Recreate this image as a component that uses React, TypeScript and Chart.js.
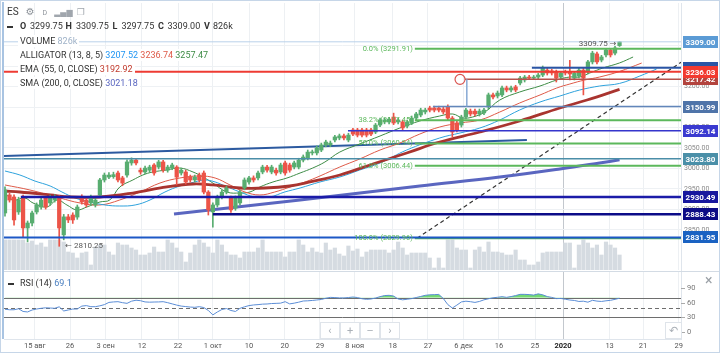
import React, { useEffect, useRef } from 'react';
import { Chart, registerables } from 'chart.js';

Chart.register(...registerables);

// ===================== DATA =====================
const opens = [
  2891.5, 2935.5, 2930.5, 2894, 2930.5, 2855, 2867, 2894, 2906, 2928,
  2916, 2923, 2930.5, 2838, 2882, 2886.5, 2881.5, 2930.5, 2923, 2916,
  2911, 2935, 2972, 2979, 2980, 2989, 2977, 2984, 3013.5, 3020.5,
  2996, 2991.5, 2996, 3008.5, 3003.5, 3016, 2996, 3001, 3003.5, 2989,
  2991.5, 2979, 2972, 2984, 2989, 2942.5, 2894, 2911, 2930.5, 2942.5,
  2928, 2903.5, 2916, 2952.5, 2967, 2977, 2977, 2991.5, 3003.5, 2991.5,
  2996, 2991.5, 3013.5, 3008.5, 3003.5, 3003.5, 3020.5, 3025.5, 3038, 3038,
  3045, 3057.5, 3057.5, 3069.5, 3074.5, 3079.5, 3069.5, 3094, 3094, 3094,
  3094, 3094, 3089, 3106, 3113.5, 3113.5, 3125.5, 3113.5, 3113.5, 3103.5,
  3111, 3123, 3130.5, 3138, 3147.5, 3147.5, 3147.5, 3145, 3150, 3123,
  3111, 3106, 3125.5, 3140, 3140, 3133, 3135.5, 3150, 3179.5, 3177,
  3179.5, 3196.5, 3191.5, 3199, 3208.5, 3216, 3223, 3220.5, 3223, 3228,
  3240, 3238, 3235.5, 3223, 3235.5, 3235.5, 3220.5, 3225.5, 3240, 3235.5,
  3260, 3279.5, 3264.5, 3277, 3289, 3281.5, 3299.75,
];
const highs = [
  2955, 2940, 2936, 2930, 2935, 2872, 2896, 2916, 2928, 2933,
  2935, 2936, 2934, 2888, 2888, 2892, 2911, 2936, 2928, 2935,
  2929, 2976, 2989, 2990, 2991, 2994, 2981, 3021, 3026, 3025,
  3001, 3006, 3008, 3012, 3020, 3020, 3008, 3013, 3007, 3001,
  2996, 2984, 2984, 2989, 2994, 2946, 2916, 2935, 2947, 2957,
  2933, 2933, 2947, 2977, 2981, 2982, 2994, 3008, 3008, 3008,
  3001, 3013, 3018, 3013, 3018, 3025, 3033, 3045, 3045, 3055,
  3062, 3069, 3067, 3081, 3084, 3084, 3086, 3098, 3098, 3098,
  3098, 3098, 3110, 3123, 3123, 3125, 3135, 3123, 3118, 3118,
  3128, 3137, 3147, 3147, 3152, 3152, 3152, 3150, 3155, 3127,
  3115, 3130, 3147, 3145, 3145, 3145, 3147, 3184, 3184, 3189,
  3201, 3201, 3201, 3203, 3225, 3227, 3227, 3227, 3232, 3250,
  3245, 3242, 3240, 3237, 3240, 3264, 3237, 3245, 3245, 3264,
  3286, 3284, 3276, 3293, 3293, 3298, 3309.75,
];
const lows = [
  2884, 2918, 2862, 2888, 2833, 2821, 2860, 2889, 2901, 2901,
  2910, 2918, 2810.25, 2826, 2868, 2866, 2876, 2913, 2906, 2910,
  2906, 2930, 2967, 2975, 2976, 2967, 2958, 2979, 3008, 3009,
  2986, 2987, 2991, 2984, 2999, 2991, 2991, 2997, 2960, 2984,
  2962, 2967, 2967, 2967, 2938, 2886.5, 2857, 2906, 2926, 2938,
  2893, 2898, 2911, 2948, 2962, 2967, 2972, 2987, 2991, 2987,
  2984, 2987, 2984, 2991, 2999, 2999, 3016, 3021, 3033, 3033,
  3041, 3053, 3053, 3065, 3070, 3070, 3065, 3080, 3077, 3077,
  3077, 3080, 3085, 3102, 3109, 3109, 3107, 3109, 3094, 3099,
  3107, 3119, 3126, 3133, 3138, 3138, 3138, 3133, 3118, 3077,
  3089, 3101, 3121, 3128, 3128, 3128, 3131, 3145, 3170, 3172,
  3175, 3187, 3187, 3187, 3204, 3211, 3217, 3217, 3219, 3224,
  3228, 3228, 3211, 3219, 3228, 3216, 3216, 3221, 3179.5, 3231,
  3255, 3255, 3260, 3272, 3272, 3277, 3297.75,
];
const closes = [
  2947.5, 2923, 2874.5, 2923, 2855, 2867, 2891.5, 2911, 2923, 2906,
  2930.5, 2930.5, 2855, 2882, 2874.5, 2874.5, 2906, 2918.5, 2911, 2930.5,
  2923, 2972, 2984, 2984, 2985, 2972, 2964.5, 3016, 3020.5, 3013.5,
  2991.5, 3001, 3003.5, 2989, 3016, 2996, 3003.5, 3008.5, 2979, 2996,
  2967, 2972, 2979, 2972, 2942.5, 2899, 2911, 2930.5, 2942.5, 2952.5,
  2899, 2928, 2942.5, 2972, 2977, 2972, 2989, 3003.5, 2996, 3003.5,
  2989, 3008.5, 2989, 2996, 3013.5, 3020.5, 3028, 3040, 3040, 3050,
  3057.5, 3064.5, 3062, 3077, 3079.5, 3074.5, 3081.5, 3084, 3081.5, 3081.5,
  3081.5, 3084, 3106, 3118.5, 3118.5, 3120.5, 3111, 3118.5, 3099, 3113.5,
  3123, 3133, 3142.5, 3142.5, 3142.5, 3142.5, 3142.5, 3138, 3123, 3089,
  3094, 3125.5, 3142.5, 3133, 3133, 3140, 3142.5, 3179.5, 3174.5, 3184,
  3196.5, 3191.5, 3196.5, 3191.5, 3220.5, 3223, 3220.5, 3223, 3228, 3245,
  3233, 3233, 3220.5, 3233, 3233, 3230.5, 3233, 3240, 3220.5, 3260,
  3281.5, 3260, 3272, 3289, 3277, 3294, 3309,
];
// volume, thousands of contracts
const volumes = [
  1650, 1650, 1650, 1650, 1650, 1485, 1595, 1375, 1485, 1265,
  1650, 1650, 1650, 1540, 990, 935, 660, 935, 990, 275,
  1265, 1375, 1375, 990, 825, 1485, 1375, 1375, 1210, 1100,
  825, 825, 935, 1265, 990, 990, 1650, 1485, 1210, 990,
  440, 935, 1375, 1650, 1485, 1265, 935, 1650, 1375, 990,
  825, 825, 660, 990, 990, 990, 1210, 1650, 990, 990,
  990, 990, 715, 990, 990, 1650, 1375, 990, 1210, 990,
  935, 1485, 1100, 1210, 880, 770, 1320, 1045, 1155,
  715, 990, 1100, 1100, 1100, 1100, 935, 1100, 1540, 1210,
  825, 935, 935, 935, 935, 660, 110, 660, 110, 1650,
  1650, 1210, 1100, 1100, 110, 1100, 1265, 990, 1540, 990,
  990, 935, 825, 825, 1100, 550, 550, 275, 275, 440,
  935, 990, 990, 990, 990, 1485, 1485, 110, 1375, 1650,
  1485, 1210, 1375, 825, 1540, 1375, 1210, 826,
];
const rsiValues = [
  46.5, 45.5, 45.5, 47.5, 42, 41, 45, 47, 48.5, 49.5,
  49, 48.5, 51.5, 43, 45, 47, 47, 53, 54, 51.8,
  51.8, 53.5, 56, 60.5, 61.5, 62, 60, 58.6, 63, 65,
  64, 61.5, 61, 61.3, 61.5, 62, 60, 57.5, 55, 53,
  52, 51, 50.5, 51.8, 50, 44, 35, 41, 46, 48,
  44, 42, 48.4, 51.5, 54, 55.3, 56, 57, 57.3, 58.2,
  58.6, 59, 62, 57.5, 59, 61, 63.4, 63.8, 64.5, 65.5,
  66.5, 69, 70.8, 70.4, 69.8, 69.7, 70.5, 71.5, 70.5, 68,
  66.8, 67.5, 69.5, 72.3, 74.5, 75, 73.5, 67.5, 65.8, 67,
  68.3, 70.5, 72.7, 75, 76, 76.4, 76.8, 68.5, 56, 49,
  55, 61.5, 63, 62, 60.5, 62.5, 65.8, 68, 70, 71,
  72.2, 70.9, 72.5, 74.5, 77, 77, 76.5, 75.5, 78, 76,
  72.5, 70.8, 68.3, 68.6, 67, 65.4, 64.5, 62.5, 63, 61,
  64.8, 63.2, 62.5, 63.8, 64.8, 66.8, 69.1,
];

// indicator lines: [bar, price]
const lipsPts = [
  [0, 2940.2], [1.8, 2923.2], [4.4, 2928], [6.2, 2915.9], [9.3, 2906.1], [11.5, 2923.2], [13.7, 2911],
  [15.9, 2898.8], [18.1, 2906.1], [21, 2918.3], [23.2, 2923.2], [25.4, 2954.9], [28.3, 2972], [30.5, 2984.1],
  [32.7, 2991.5], [35.8, 2996.3], [38.7, 3001.2], [41.6, 2991.5], [43.8, 2979.3], [46, 2964.6], [49.1, 2942.7],
  [52, 2940.2], [54.2, 2942.7], [56.4, 2954.9], [59.3, 2967.1], [62.4, 2976.8], [65.3, 2989], [68.1, 3001.2],
  [70.8, 3015.9], [74.1, 3040.2], [78.5, 3059.8], [83, 3079.3], [87.4, 3098.8], [91.8, 3115.9], [96.2, 3128],
  [99.1, 3132.9], [101.3, 3123.2], [103.5, 3125.6], [106.2, 3137.8], [109.5, 3167.1], [113.9, 3186.6],
  [118.4, 3201.2], [122.1, 3215.9], [125, 3223.2], [127.2, 3223.2], [129.4, 3232.9], [132.3, 3245.1],
  [136, 3257.47], [139, 3272],
];
const teethPts = [
  [0, 2959.8], [5.5, 2947.6], [12.2, 2928], [16.6, 2915.9], [21, 2911], [25.4, 2923.2], [29.9, 2942.7],
  [34.3, 2964.6], [38.7, 2976.8], [43.1, 2981.7], [46.5, 2976.8], [49.8, 2959.8], [53.1, 2942.7],
  [56.4, 2935.4], [59.7, 2942.7], [63.1, 2954.9], [66.4, 2967.1], [69.7, 2981.7], [74.1, 3003.7],
  [78.5, 3023.2], [83, 3045.1], [87.4, 3062.2], [91.8, 3084.1], [96.2, 3101.2], [100.7, 3111],
  [105.1, 3118.3], [109.5, 3137.8], [113.9, 3159.8], [118.4, 3179.3], [122.1, 3196.3], [125, 3206.1],
  [128.3, 3215.9], [131.6, 3223.2], [136, 3236.74], [140.9, 3257.3],
];
const jawPts = [
  [0, 2993.9], [3.3, 2984.1], [6.6, 2969.5], [10, 2957.3], [12.6, 2942.7], [15.5, 2928], [18.8, 2918.3],
  [22.1, 2911], [25.4, 2908.5], [28.8, 2911], [32.1, 2923.2], [35.4, 2942.7], [38.7, 2957.3], [42, 2967.1],
  [44.2, 2972], [46.5, 2967.1], [48.7, 2957.3], [52, 2942.7], [55.3, 2930.5], [58.6, 2930.5], [61.9, 2942.7],
  [65.3, 2952.4], [69.7, 2967.1], [74.1, 2979.3], [78.5, 2996.3], [83, 3013.4], [88.9, 3045.1],
  [96.2, 3074.4], [100.7, 3086.6], [105.1, 3098.8], [109.5, 3118.3], [113.9, 3142.7], [118.4, 3162.2],
  [122.8, 3176.8], [127.2, 3191.5], [131.6, 3201.2], [136, 3207.52], [140.5, 3225.6], [144.2, 3242.7],
];
const emaPts = [
  [0, 2945.1], [3.3, 2942.7], [10, 2935.4], [14.4, 2930.5], [21, 2930.5], [28.3, 2940.2], [35.8, 2954.9],
  [41.6, 2962.2], [46, 2959.8], [52, 2952.4], [57.5, 2952.4], [63, 2957.3], [67.5, 2967.1], [74.1, 2984.1],
  [81.4, 3011], [88.9, 3037.8], [96.2, 3064.6], [105.1, 3089], [113.9, 3115.9], [122.8, 3147.6],
  [128.8, 3167.1], [136, 3192.92],
];
const smaPts = [
  [37.4, 2889], [65.3, 2923.2], [91.8, 2957.3], [109.5, 2979.3], [122.8, 2998.8], [131.6, 3013.4], [136, 3021.18],
];
const trendUpper = [[-0.22, 3030.5], [115.5, 3069.5]];
const trendDashed = [[91.2, 2829.96], [149.6, 3259]];

const tickBars = [6.6, 14.4, 22.3, 30.3, 38.3, 46, 54, 61.9, 69.7, 77.4, 85.8, 93.6, 101.5, 109.3, 117.3, 123.5, 133.8, 141.2, 149.1];
const tickLabels = ['15 авг', '26', '3 сен', '12', '22', '1 окт', '10', '20', '29', '8 ноя', '18', '27', '6 дек', '16', '25', '2020', '13', '21', '29'];
const priceTicks = [2850, 2900, 2950, 3000, 3050, 3100, 3150, 3200, 3250, 3300];
const rsiTicks = [0, 30, 60, 90];
const rsiLevels = [70, 50, 30];

const lastPrice = 3309.0;
const levelPrices = [3245.75, 3236.03, 3217.42, 3150.99, 3092.14, 3023.8, 2930.49, 2888.43, 2831.95];
const fibPcts = ['0.0%', '38.2%', '50.0%', '61.8%', '100.0%'];
const fibPrices = [3291.91, 3117.45, 3060.94, 3006.44, 2829.96];

const ohlcLabels = ['O', 'H', 'L', 'C', 'V'];
const ohlcValues = ['3299.75', '3309.75', '3297.75', '3309.00', '826k'];

// ===================== STYLE =====================
const FONT = 'Roboto, "DejaVu Sans", Arial, sans-serif';
const GREEN = '#58ad70';
const RED = '#ec5448';
const X_MIN = -0.22;
const X_MAX = 149.6;
const FIB_FROM = 90.7;
const CIRCLE_BAR = 100.7;
const CONNECT_BAR = 102.2;
const LEVEL_STYLE: any[] = [
  { from: 116.6, color: '#2a55a5', w: 2, box: '#2a55a5' },
  { from: null, color: '#ee3b33', w: 2, box: '#f23a30' },
  { from: 101.8, color: '#b5524c', w: 1.5, box: '#b3443e' },
  { from: 94.7, color: '#6286ba', w: 1.5, box: '#4f74a9' },
  { from: 75.9, color: '#3535cc', w: 1.5, box: '#3a3ad0' },
  { from: null, color: '#4b8ea8', w: 1.5, box: '#4a8fa8' },
  { from: 3.5, color: '#1b1ba8', w: 2.5, box: '#17179e' },
  { from: 46, color: '#0c0c88', w: 2.5, box: '#0c0c86' },
  { from: null, color: '#1d58c6', w: 2, box: '#1a62c2' },
];
const BOX_ORDER = [0, 2, 1, 3, 4, 5, 6, 7, 8];
const OHLC_LABEL_X = [20, 65.5, 112.5, 158, 204];
const OHLC_VALUE_X = [30, 76, 121.5, 167.5, 213];

Chart.defaults.font.family = FONT;

const pts = (a: number[][]) => a.map(([x, y]) => ({ x, y }));
const setXTicks = (s: any) => {
  s.ticks = tickBars.map((v) => ({ value: v }));
};
const xGridColor = (c: any) => (tickLabels[c.index] === '2020' ? '#c3c8ce' : '#edf0f3');

const annotPlugin = {
  id: 'annot',
  afterDatasetsDraw(chart: any) {
    const { ctx, chartArea: ca, scales } = chart;
    const X = (v: number) => scales.x.getPixelForValue(v);
    const Y = (v: number) => scales.y.getPixelForValue(v);
    ctx.save();
    ctx.beginPath();
    ctx.rect(ca.left, ca.top, ca.right - ca.left, ca.bottom - ca.top);
    ctx.clip();
    const hline = (p: number, from: number | null, color: string, w: number) => {
      const yy = Y(p);
      ctx.strokeStyle = color;
      ctx.lineWidth = w;
      ctx.beginPath();
      ctx.moveTo(from == null ? ca.left : X(from), yy);
      ctx.lineTo(ca.right, yy);
      ctx.stroke();
    };
    hline(lastPrice, null, '#b9d1ea', 1);
    fibPrices.forEach((p) => hline(p, FIB_FROM, '#5cb85c', 2));
    levelPrices.forEach((p, i) => hline(p, LEVEL_STYLE[i].from, LEVEL_STYLE[i].color, LEVEL_STYLE[i].w));
    // connector + circle
    ctx.strokeStyle = '#86a8d4';
    ctx.lineWidth = 1.5;
    ctx.beginPath();
    ctx.moveTo(X(CONNECT_BAR), Y(levelPrices[2]));
    ctx.lineTo(X(CONNECT_BAR), Y(levelPrices[3]));
    ctx.stroke();
    ctx.strokeStyle = '#d9534f';
    ctx.lineWidth = 1.2;
    ctx.beginPath();
    ctx.arc(X(CIRCLE_BAR), Y(levelPrices[2]), 5, 0, Math.PI * 2);
    ctx.stroke();
    // fib texts
    ctx.font = `7.5px ${FONT}`;
    ctx.fillStyle = '#5cb85c';
    ctx.textAlign = 'right';
    ctx.textBaseline = 'middle';
    fibPrices.forEach((p, i) => ctx.fillText(`${fibPcts[i]} (${p.toFixed(2)})`, X(FIB_FROM) - 2, Y(p)));
    // high / low marks
    const hi = Math.max(...highs);
    const lo = Math.min(...lows);
    const hiBar = highs.indexOf(hi);
    const loBar = lows.indexOf(lo);
    ctx.font = `8px ${FONT}`;
    ctx.fillStyle = '#555';
    ctx.textAlign = 'right';
    ctx.fillText(`${hi.toFixed(2)} →`, X(hiBar) - 3, Y(hi) + 2);
    ctx.textAlign = 'left';
    ctx.fillText(`← ${lo.toFixed(2)}`, X(loBar) + 6, Y(lo));
    ctx.restore();
  },
  afterDraw(chart: any) {
    const { ctx, chartArea: ca, scales } = chart;
    const Y = (v: number) => scales.y.getPixelForValue(v);
    ctx.save();
    // price tick labels
    ctx.font = `7px ${FONT}`;
    ctx.fillStyle = '#8a8a8a';
    ctx.textAlign = 'left';
    ctx.textBaseline = 'middle';
    priceTicks.forEach((v) => ctx.fillText(v.toFixed(2), ca.right + 3, Y(v)));
    // level boxes
    ctx.font = `bold 8px ${FONT}`;
    ctx.textAlign = 'center';
    const box = (p: number, bg: string) => {
      const yy = Math.round(Y(p));
      ctx.fillStyle = bg;
      ctx.fillRect(ca.right + 2, yy - 6, 35, 12);
      ctx.fillStyle = '#fff';
      ctx.fillText(p.toFixed(2), ca.right + 19.5, yy + 0.5);
    };
    BOX_ORDER.forEach((i) => box(levelPrices[i], LEVEL_STYLE[i].box));
    box(lastPrice, '#5b9bd5');
    ctx.restore();
  },
};

const rsiPlugin = {
  id: 'rsiLv',
  beforeDatasetsDraw(chart: any) {
    const { ctx, chartArea: ca, scales } = chart;
    ctx.save();
    ctx.strokeStyle = '#6e6e6e';
    ctx.lineWidth = 1;
    rsiLevels.forEach((v) => {
      const yy = Math.round(scales.y.getPixelForValue(v)) + 0.5;
      ctx.setLineDash(v === 50 ? [4, 3] : []);
      ctx.beginPath();
      ctx.moveTo(ca.left, yy);
      ctx.lineTo(ca.right, yy);
      ctx.stroke();
    });
    ctx.restore();
  },
  afterDraw(chart: any) {
    const { ctx, chartArea: ca, scales } = chart;
    ctx.save();
    ctx.strokeStyle = '#aaa';
    ctx.lineWidth = 1;
    ctx.font = `7.5px ${FONT}`;
    ctx.fillStyle = '#777';
    ctx.textAlign = 'left';
    ctx.textBaseline = 'middle';
    rsiTicks.forEach((v) => {
      const yy = Math.round(scales.y.getPixelForValue(v)) + 0.5;
      ctx.beginPath();
      ctx.moveTo(ca.right, yy);
      ctx.lineTo(ca.right + 4, yy);
      ctx.stroke();
      ctx.fillText(String(v), ca.right + 6, yy);
    });
    ctx.restore();
  },
};

export default function App() {
  const priceRef = useRef<HTMLCanvasElement>(null);
  const rsiRef = useRef<HTMLCanvasElement>(null);

  useEffect(() => {
    document.body.style.margin = '0';
    const idx = opens.map((_, i) => i);
    const colors = idx.map((i) => (closes[i] >= opens[i] ? GREEN : RED));
    const lineDs = (data: number[][], color: string, width: number, extra: any = {}) => ({
      type: 'line',
      data: pts(data),
      borderColor: color,
      borderWidth: width,
      pointRadius: 0,
      tension: 0.4,
      order: 2,
      ...extra,
    });

    const c1 = new Chart(priceRef.current as HTMLCanvasElement, {
      type: 'bar',
      data: {
        datasets: [
          { type: 'bar', data: idx.map((i) => ({ x: i, y: [opens[i], closes[i]] })), backgroundColor: colors, barThickness: 3.6, grouped: false, minBarLength: 1, order: 0 },
          { type: 'bar', data: idx.map((i) => ({ x: i, y: [lows[i], highs[i]] })), backgroundColor: colors, barThickness: 1, grouped: false, order: 1 },
          lineDs(smaPts, '#5a66c0', 3),
          lineDs(emaPts, '#a9342f', 2.8),
          lineDs(jawPts, '#2ea2dc', 1),
          lineDs(teethPts, '#de5a48', 1),
          lineDs(lipsPts, '#3e8c46', 1),
          lineDs(trendUpper, '#2c5aa0', 2, { tension: 0 }),
          lineDs(trendDashed, '#333', 1.2, { tension: 0, borderDash: [4, 3] }),
          { type: 'bar', yAxisID: 'yv', data: idx.map((i) => ({ x: i, y: volumes[i] })), backgroundColor: '#d5dbe1', barThickness: 3.5, grouped: false, order: 10 },
        ],
      } as any,
      options: {
        animation: false,
        responsive: false,
        events: [],
        layout: { padding: { left: 4, top: 3, right: 0, bottom: 1 } },
        plugins: { legend: { display: false }, tooltip: { enabled: false } },
        scales: {
          x: {
            type: 'linear', min: X_MIN, max: X_MAX, offset: false,
            grid: { color: xGridColor, drawTicks: false, offset: false } as any,
            border: { display: false },
            ticks: { display: false },
            afterBuildTicks: setXTicks,
            afterFit: (s: any) => { s.height = 0; },
          },
          y: {
            type: 'linear', position: 'right', min: 2752.4, max: 3403.7,
            grid: { color: '#eef1f4', drawTicks: false },
            border: { color: '#dfe5ec' },
            ticks: { display: false },
            afterBuildTicks: (s: any) => { s.ticks = priceTicks.map((v) => ({ value: v })); },
            afterFit: (s: any) => { s.width = 39; },
          },
          yv: { type: 'linear', display: false, min: 0, max: 14685 },
        },
      } as any,
      plugins: [annotPlugin],
    });

    const c2 = new Chart(rsiRef.current as HTMLCanvasElement, {
      type: 'line',
      data: {
        datasets: [
          {
            data: idx.map((i) => ({ x: i, y: rsiValues[i] })),
            borderColor: '#5b8dd6', borderWidth: 1, pointRadius: 0, tension: 0,
            fill: { value: 70, above: 'rgba(100, 214, 100, 0.9)', below: 'rgba(0,0,0,0)' },
          },
        ],
      } as any,
      options: {
        animation: false,
        responsive: false,
        events: [],
        layout: { padding: { left: 4, top: 1, right: 0, bottom: 0 } },
        plugins: { legend: { display: false }, tooltip: { enabled: false } },
        scales: {
          x: {
            type: 'linear', min: X_MIN, max: X_MAX, offset: false,
            grid: { color: xGridColor, drawTicks: false, offset: false } as any,
            border: { color: '#dfe5ec' },
            ticks: {
              color: (c: any) => (tickLabels[c.index] === '2020' ? '#222' : '#555'),
              font: (c: any) => ({ size: 7.5, weight: tickLabels[c.index] === '2020' ? 'bold' : 'normal' }),
              padding: 3, maxRotation: 0, autoSkip: false,
              callback: (_v: any, i: number) => tickLabels[i],
            },
            afterBuildTicks: setXTicks,
            afterFit: (s: any) => { s.height = 15; },
          },
          y: {
            type: 'linear', position: 'right', min: -14.3, max: 122.7,
            grid: { display: false },
            border: { color: '#dfe5ec' },
            ticks: { display: false },
            afterBuildTicks: (s: any) => { s.ticks = rsiTicks.map((v) => ({ value: v })); },
            afterFit: (s: any) => { s.width = 39; },
          },
        },
      } as any,
      plugins: [rsiPlugin],
    });

    return () => {
      c1.destroy();
      c2.destroy();
    };
  }, []);

  const row = (top: number, left: number): React.CSSProperties => ({
    position: 'absolute', top, left, font: `9px ${FONT}`, color: '#333', background: '#fff',
    padding: '0 2px', lineHeight: '12px', whiteSpace: 'nowrap',
  });
  const abs = (top: number, left: number, extra: React.CSSProperties = {}): React.CSSProperties => ({
    position: 'absolute', top, left, font: `9px ${FONT}`, color: '#333', lineHeight: '12px', whiteSpace: 'nowrap', ...extra,
  });
  const dash: React.CSSProperties = { display: 'inline-block', width: 6, height: 2, background: '#333', verticalAlign: 'middle', marginRight: 6 };
  const navBtn = (left: number): React.CSSProperties => ({
    position: 'absolute', left, top: 322, width: 20, height: 17, boxSizing: 'border-box', border: '1px solid #dfe4ea',
    background: 'rgba(255,255,255,0.95)', color: '#aab0b7', font: `11px ${FONT}`, textAlign: 'center', lineHeight: '15px',
  });

  return (
    <div style={{ position: 'relative', width: 720, height: 354, overflow: 'hidden', background: '#fff', fontFamily: FONT }}>
      <style>{'html,body{margin:0;padding:0;background:#fff;}'}</style>
      <canvas ref={priceRef} width={720} height={271} style={{ position: 'absolute', left: 0, top: 0 }} />
      <canvas ref={rsiRef} width={720} height={83} style={{ position: 'absolute', left: 0, top: 271 }} />

      {/* frame */}
      <div style={{ position: 'absolute', left: 0, top: 0, width: 720, height: 353, boxSizing: 'border-box', border: '1px solid #c6d6e8', pointerEvents: 'none' }} />
      <div style={{ position: 'absolute', left: 2, top: 2, width: 2, height: 337, background: '#a9c4e2' }} />
      <div style={{ position: 'absolute', left: 4, top: 271, width: 715, height: 1, background: '#d3dbe4' }} />

      {/* header */}
      <div style={{ position: 'absolute', top: 6, left: 7, font: `10px ${FONT}`, color: '#333', whiteSpace: 'nowrap', lineHeight: '12px' }}>
        <span>ES</span>
        <span style={{ color: '#8d939a', marginLeft: 7, fontSize: 10 }}>⚙</span>
        <span style={{ color: '#8d939a', marginLeft: 8, fontSize: 7 }}>D</span>
        <span style={{ color: '#a0a6ad', marginLeft: 7, fontSize: 8 }}>▂▄▆</span>
        <span style={{ color: '#a0a6ad', marginLeft: 4, fontSize: 9 }}>❐</span>
      </div>
      <div style={abs(20, 7)}><span style={dash} /></div>
      {ohlcLabels.map((l, i) => (
        <React.Fragment key={l}>
          <div style={abs(20, OHLC_LABEL_X[i], { fontWeight: 'bold' })}>{l}</div>
          <div style={abs(20, OHLC_VALUE_X[i])}>{ohlcValues[i]}</div>
        </React.Fragment>
      ))}
      <div style={row(35, 18)}>
        VOLUME <span style={{ color: '#9fb2c8' }}>826k</span>
      </div>
      <div style={row(49, 18)}>
        ALLIGATOR (13, 8, 5) <span style={{ color: '#2196f3' }}>3207.52</span>{' '}
        <span style={{ color: '#de5a48' }}>3236.74</span> <span style={{ color: '#3e8c46' }}>3257.47</span>
      </div>
      <div style={row(63, 18)}>
        EMA (55, 0, CLOSE) <span style={{ color: '#c0392b' }}>3192.92</span>
      </div>
      <div style={row(77, 18)}>
        SMA (200, 0, CLOSE) <span style={{ color: '#5a66c0' }}>3021.18</span>
      </div>

      {/* RSI header */}
      <div style={{ ...row(277, 6), background: 'transparent' }}>
        <span style={dash} />
        RSI (14) <span style={{ color: '#4a7fc0' }}>69.1</span>
      </div>
      <div style={{ position: 'absolute', left: 705, top: 272, font: `14px ${FONT}`, color: '#9aa0a6' }}>×</div>

      {/* navigation */}
      <div style={navBtn(320)}>‹</div>
      <div style={navBtn(340)}>+</div>
      <div style={navBtn(360)}>–</div>
      <div style={navBtn(380)}>›</div>
      <div style={{ ...navBtn(665), width: 17 }}>↶</div>
    </div>
  );
}
